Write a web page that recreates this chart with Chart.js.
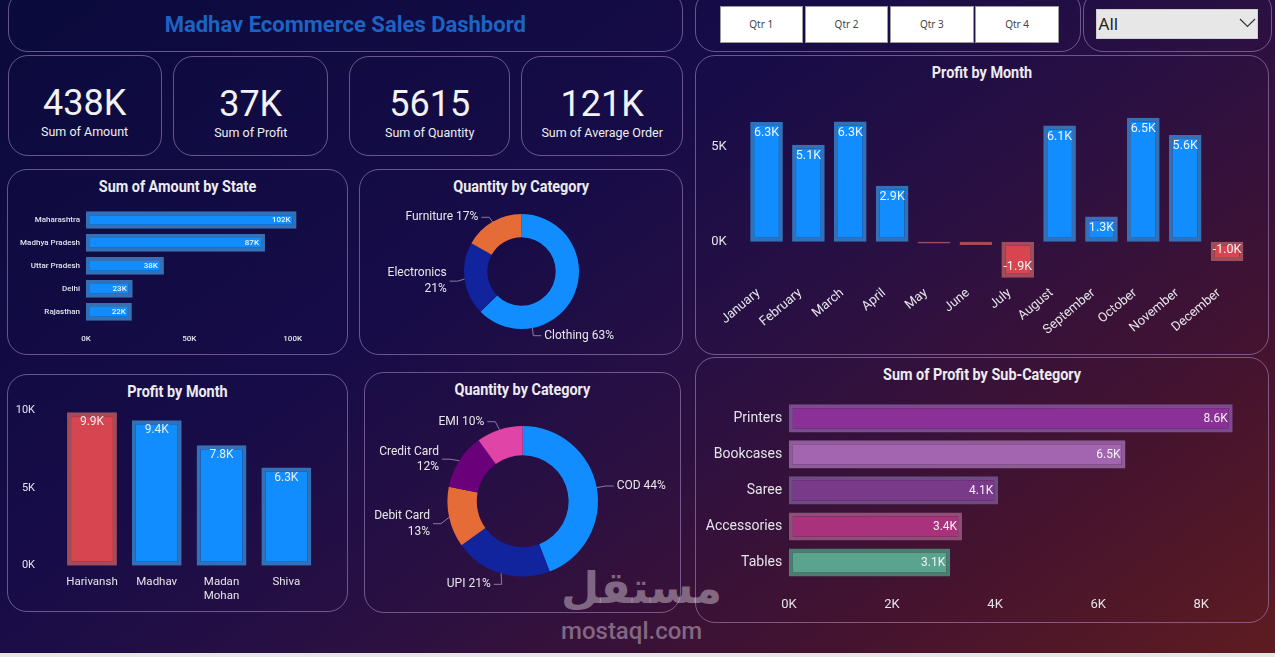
<!DOCTYPE html>
<html><head><meta charset="utf-8">
<script src="https://cdn.jsdelivr.net/npm/chart.js@4.4.1/dist/chart.umd.min.js"></script>
<style>
html,body{margin:0;padding:0}
body{width:1275px;height:657px;overflow:hidden;position:relative;font-family:Roboto,'Noto Sans',sans-serif;
background:linear-gradient(145deg,#0a0a3c 0%,#170c48 38%,#2b1042 58%,#45132f 80%,#5e1c20 100%);}
.panel{position:absolute;border:1px solid rgba(175,145,205,0.55);border-radius:20px;box-sizing:border-box}
.ptitle{position:absolute;left:0;right:0;top:6px;line-height:21px;text-align:center;color:#ececf0;font-weight:700;font-size:16px;transform:scaleX(0.9);white-space:nowrap}
.kval{position:absolute;left:0;right:0;top:29px;line-height:36px;font-size:36px;text-align:center;color:#f2f2f2}
.klab{position:absolute;left:0;right:0;top:68px;line-height:16px;font-size:12.5px;text-align:center;color:#eeeeee}
.btn{position:absolute;top:6px;height:36.7px;width:83.5px;background:#fff;border:1px solid #9a9a9a;box-sizing:border-box;font-size:10px;color:#444;display:flex;align-items:center;justify-content:center;font-family:'Noto Sans',Roboto,sans-serif}
canvas{position:absolute}
#strip{position:absolute;left:0;right:0;top:653px;height:4px;background:#e6e6e6}
.wm{position:absolute;color:rgba(205,190,205,0.5);pointer-events:none;white-space:nowrap}
</style></head>
<body>
<div id="strip"></div>
<script>
// ---------------- DATA ----------------
const dashboardTitle = 'Madhav Ecommerce Sales Dashbord';
const kpiValues = ['438K', '37K', '5615', '121K'];
const kpiLabels = ['Sum of Amount', 'Sum of Profit', 'Sum of Quantity', 'Sum of Average Order'];
const quarters = ['Qtr 1', 'Qtr 2', 'Qtr 3', 'Qtr 4'];
const dropdownValue = 'All';

const states = ['Maharashtra', 'Madhya Pradesh', 'Uttar Pradesh', 'Delhi', 'Rajasthan'];
const stateAmount = [101900, 86600, 37700, 22600, 22200];
const stateTicks = [0, 50000, 100000];

const categories = ['Clothing', 'Electronics', 'Furniture'];
const categoryQty = [3516, 1154, 945];

const months = ['January', 'February', 'March', 'April', 'May', 'June', 'July', 'August', 'September', 'October', 'November', 'December'];
const monthProfit = [6300, 5100, 6330, 2940, -100, -170, -1900, 6120, 1320, 6520, 5620, -1020];
const monthTicks = [0, 5000];

const customers = ['Harivansh', 'Madhav', ['Madan', 'Mohan'], 'Shiva'];
const customerProfit = [9900, 9380, 7770, 6330];
const customerTicks = [0, 5000, 10000];

const paymentModes = ['COD', 'UPI', 'Debit Card', 'Credit Card', 'EMI'];
const paymentQty = [2480, 1175, 730, 670, 560];

const subCategories = ['Printers', 'Bookcases', 'Saree', 'Accessories', 'Tables'];
const subCatProfit = [8610, 6530, 4060, 3360, 3130];
const subCatTicks = [0, 2000, 4000, 6000, 8000];

// ---------------- STYLE ----------------
const BLUE = '#118dff', BLUE_B = '#3470b4', RED = '#d64550', RED_B = '#a04d5a';
const subCatFill = ['#8a3096', '#a465b0', '#7a3a8a', '#aa327c', '#5aa48e'];
const subCatBorder = ['#7c4a8e', '#8e5c98', '#6e4b84', '#8e4e78', '#4b7e71'];

// ---------------- HTML PANELS ----------------
function el(tag, cls, css, html) { const e = document.createElement(tag); if (cls) e.className = cls; if (css) e.style.cssText = css; if (html != null) e.innerHTML = html; document.body.appendChild(e); return e; }
function panel(l, t, w, h, title) {
  const p = el('div', 'panel', `left:${l}px;top:${t}px;width:${w}px;height:${h}px`);
  if (title) { const d = document.createElement('div'); d.className = 'ptitle'; d.textContent = title; p.appendChild(d); }
  return p;
}
panel(7.6, -10, 675.4, 62.3);
el('div', null, `position:absolute;left:7.6px;width:675.4px;top:12px;line-height:26px;text-align:center;font-size:22px;font-weight:700;color:#1c63c4`, dashboardTitle);
const kpiBoxes = [[7.6, 55, 154, 100.5], [173.2, 55.5, 155, 100.7], [349.1, 55.5, 161.2, 100.7], [521.4, 55.5, 161.6, 100.7]];
kpiBoxes.forEach((b, i) => {
  const p = panel(b[0], b[1], b[2], b[3]);
  const v = document.createElement('div'); v.className = 'kval'; v.textContent = kpiValues[i]; p.appendChild(v);
  const l = document.createElement('div'); l.className = 'klab'; l.textContent = kpiLabels[i]; p.appendChild(l);
});
panel(695.2, -10, 385.8, 62.3);
quarters.forEach((q, i) => el('div', 'btn', `left:${719.5 + i * 85.3}px`, q));
panel(1082.9, -10, 189, 62.3);
el('div', null, `position:absolute;left:1095.6px;top:9.3px;width:162px;height:29.4px;background:#e7e7e7;border:1px solid #cfcfcf;box-sizing:border-box;font-size:17px;line-height:27px;padding-left:2px;color:#222;font-family:'Noto Sans',Roboto,sans-serif`, dropdownValue +
  `<svg style="position:absolute;left:142px;top:8px" width="17" height="10"><polyline points="1,1 8.5,8.5 16,1" fill="none" stroke="#333" stroke-width="1.2"/></svg>`);

panel(695, 55, 574, 300, 'Profit by Month');
panel(695, 356.7, 574, 266.6, 'Sum of Profit by Sub-Category');
panel(7.3, 169, 341, 186, 'Sum of Amount by State');
panel(359, 169, 324.3, 186, 'Quantity by Category');
panel(7.3, 374, 341, 238.3, 'Profit by Month');
panel(364, 371.7, 316.7, 241, 'Quantity by Category');

el('div', 'wm', `left:561px;top:556px;font-family:'DejaVu Sans';font-weight:bold;font-size:44px;line-height:64px`, 'مستقل');
el('div', 'wm', `left:561px;top:616px;font-family:Roboto;font-weight:500;font-size:24px;line-height:30px`, 'mostaql.com');

// ---------------- PLUGINS ----------------
function fmtK0(v) { return Math.round(v / 1000) + 'K'; }
function fmtK1(v) { return (v / 1000).toFixed(1) + 'K'; }
const barLabels = {
  id: 'barLabels',
  afterDatasetsDraw(chart) {
    const o = chart.data.datasets[0].valueLabels;
    if (!o) return;
    const ctx = chart.ctx, horiz = chart.options.indexAxis === 'y';
    chart.data.datasets.forEach((ds, di) => {
      chart.getDatasetMeta(di).data.forEach((b, i) => {
        const v = ds.data[i];
        if (Math.abs(v) < o.minAbs) return;
        const t = o.fmt === 'k0' ? fmtK0(v) : fmtK1(v);
        ctx.save(); ctx.font = o.font; ctx.fillStyle = o.color; ctx.textBaseline = 'middle';
        if (horiz) { ctx.textAlign = 'right'; ctx.fillText(t, b.x - o.offset, b.y + 0.5); }
        else { ctx.textAlign = 'center'; ctx.fillText(t, b.x, v >= 0 ? b.y + o.offset : b.y - o.offset); }
        ctx.restore();
      });
    });
  }
};
const donutLabels = {
  id: 'donutLabels',
  afterDraw(chart) {
    const ds = chart.data.datasets[0];
    const o = ds.sliceLabels;
    if (!o) return;
    const ctx = chart.ctx;
    const total = ds.data.reduce((a, b) => a + b, 0);
    chart.getDatasetMeta(0).data.forEach((arc, i) => {
      const it = o.items[i];
      const f = it.at == null ? 0.5 : it.at;
      const a = arc.startAngle + (arc.endAngle - arc.startAngle) * f;
      const px = arc.x + Math.cos(a) * arc.outerRadius, py = arc.y + Math.sin(a) * arc.outerRadius;
      const pct = Math.round(ds.data[i] / total * 100) + '%';
      const lines = it.split ? [chart.data.labels[i], pct] : [chart.data.labels[i] + ' ' + pct];
      const tx = arc.x + it.dx, ty = arc.y + it.dy, lh = it.lh || 15.5;
      const midY = ty + (lines.length - 1) * lh / 2;
      const ax = it.align === 'right' ? tx + 3 : tx - 3;
      const ex = it.align === 'right' ? ax + 8 : ax - 8;
      ctx.save();
      ctx.strokeStyle = o.lineColor; ctx.lineWidth = 1;
      ctx.beginPath(); ctx.moveTo(px, py); ctx.lineTo(ex, midY); ctx.lineTo(ax, midY); ctx.stroke();
      ctx.font = o.font; ctx.fillStyle = o.color; ctx.textAlign = it.align; ctx.textBaseline = 'middle';
      lines.forEach((l, k) => ctx.fillText(l, tx, ty + k * lh));
      ctx.restore();
    });
  }
};
Chart.register(barLabels, donutLabels);
Chart.defaults.font.family = 'Roboto';
Chart.defaults.animation = false;
Chart.defaults.plugins.legend.display = false;
Chart.defaults.plugins.tooltip.enabled = false;

function mkCanvas(l, t, w, h) {
  const c = document.createElement('canvas'); c.width = w; c.height = h;
  c.style.cssText = `left:${l}px;top:${t}px;width:${w}px;height:${h}px`;
  document.body.appendChild(c); return c.getContext('2d');
}
function fixTicks(arr) { return s => { s.ticks = arr.map(v => ({ value: v })); }; }
function setW(w) { return s => { s.width = w; s.paddingTop = 0; s.paddingBottom = 0; }; }
function setH(h) { return s => { s.height = h; s.paddingLeft = 0; s.paddingRight = 0; }; }
const noGrid = { display: false, drawTicks: false };

// ---- Sum of Amount by State ----
new Chart(mkCanvas(10, 200, 300, 146), {
  type: 'bar',
  data: { labels: states, datasets: [{ data: stateAmount, backgroundColor: BLUE, borderColor: BLUE_B, borderWidth: 4, borderSkipped: false, barPercentage: 0.77, categoryPercentage: 1,
    valueLabels: { fmt: 'k0', font: '500 8px Roboto', color: '#f2f2f2', offset: 6, minAbs: 0 } }] },
  options: {
    indexAxis: 'y', responsive: false,
    layout: { padding: { top: 8.5, right: 7, left: 0, bottom: 0 } },
    scales: {
      x: { min: 0, max: 105000, afterBuildTicks: fixTicks(stateTicks), afterFit: setH(22.7), grid: noGrid, border: { display: false },
        ticks: { padding: 11, color: '#dfe3ee', font: { size: 8, weight: 500 }, callback: v => fmtK0(v) } },
      y: { afterFit: setW(76), grid: noGrid, border: { display: false }, ticks: { padding: 6, color: '#dfe3ee', font: { size: 8, weight: 500 } } }
    }
  }
});

// ---- Quantity by Category (donut 1) ----
new Chart(mkCanvas(362, 195, 318, 157), {
  type: 'doughnut',
  data: { labels: categories, datasets: [{ data: categoryQty, backgroundColor: ['#118dff', '#12239e', '#e66c37'], borderWidth: 0,
    sliceLabels: { font: '12px Roboto', color: '#e8e8e8', lineColor: 'rgba(170,160,185,0.75)', items: [
      { at: 0.75, align: 'left', dx: 22.8, dy: 64.2 },
      { split: true, align: 'right', dx: -74.8, dy: 1.8, lh: 15.7 },
      { align: 'right', dx: -43.2, dy: -54.2 }
    ] } }] },
  options: {
    responsive: false, cutout: '59.5%',
    layout: { padding: { left: 102, top: 19, right: 101, bottom: 23 } }
  }
});

// ---- Profit by Month ----
new Chart(mkCanvas(700, 90, 560, 250), {
  type: 'bar',
  data: { labels: months, datasets: [{ data: monthProfit,
    backgroundColor: monthProfit.map(v => v < 0 ? RED : BLUE), borderColor: monthProfit.map(v => v < 0 ? RED_B : BLUE_B),
    borderWidth: 4, borderSkipped: false, barPercentage: 0.78, categoryPercentage: 1,
    valueLabels: { fmt: 'k1', font: '12.5px Roboto', color: '#f4f4f4', offset: 11, minAbs: 500 } }] },
  options: {
    responsive: false,
    layout: { padding: { top: 9.2, right: 12, left: 0, bottom: 0 } },
    scales: {
      x: { afterFit: setH(54.6), grid: noGrid, border: { display: false }, ticks: { minRotation: 40, maxRotation: 40, padding: 0, labelOffset: -8, color: '#e4e4ea', font: { size: 13 } } },
      y: { min: -2300, max: 7500, afterBuildTicks: fixTicks(monthTicks), afterFit: setW(45.6), grid: noGrid, border: { display: false },
        ticks: { padding: 19, color: '#e4e4ea', font: { size: 13 }, callback: v => fmtK0(v) } }
    }
  }
});

// ---- Profit by customer ----
const cMax = Math.max(...customerProfit);
new Chart(mkCanvas(10, 400, 320, 210), {
  type: 'bar',
  data: { labels: customers, datasets: [{ data: customerProfit,
    backgroundColor: customerProfit.map(v => v === cMax ? RED : BLUE), borderColor: customerProfit.map(v => v === cMax ? RED_B : BLUE_B),
    borderWidth: 4, borderSkipped: false, barPercentage: 0.77, categoryPercentage: 1,
    valueLabels: { fmt: 'k1', font: '12px Roboto', color: '#ececf0', offset: 10, minAbs: 0 } }] },
  options: {
    responsive: false,
    layout: { padding: { top: 10.7, right: 11.3, left: 0, bottom: 0 } },
    scales: {
      x: { afterFit: setH(44.3), grid: noGrid, border: { display: false }, ticks: { padding: 9, color: '#e4e4ea', font: { size: 11.5, lineHeight: 1.25 } } },
      y: { min: 0, max: 10000, afterBuildTicks: fixTicks(customerTicks), afterFit: setW(49.6), grid: noGrid, border: { display: false },
        ticks: { padding: 24.6, color: '#e4e4ea', font: { size: 11 }, callback: v => fmtK0(v) } }
    }
  }
});

// ---- Quantity by payment mode (donut 2) ----
new Chart(mkCanvas(366, 398, 312, 212), {
  type: 'doughnut',
  data: { labels: paymentModes, datasets: [{ data: paymentQty, backgroundColor: ['#118dff', '#12239e', '#e66c37', '#6b007b', '#e044a7'], borderWidth: 0,
    sliceLabels: { font: '12px Roboto', color: '#e8e8e8', lineColor: 'rgba(170,160,185,0.75)', items: [
      { align: 'left', dx: 94, dy: -15.3 },
      { align: 'right', dx: -32, dy: 83 },
      { split: true, align: 'right', dx: -92.7, dy: 14.4, lh: 16 },
      { split: true, align: 'right', dx: -83.7, dy: -49.6, lh: 15 },
      { align: 'right', dx: -38.4, dy: -79.6 }
    ] } }] },
  options: {
    responsive: false, cutout: '61%',
    layout: { padding: { left: 81.4, top: 28, right: 80, bottom: 33.4 } }
  }
});

// ---- Sum of Profit by Sub-Category ----
new Chart(mkCanvas(700, 392, 560, 225), {
  type: 'bar',
  data: { labels: subCategories, datasets: [{ data: subCatProfit, backgroundColor: subCatFill, borderColor: subCatBorder, borderWidth: 4, borderSkipped: false, barPercentage: 0.78, categoryPercentage: 1,
    valueLabels: { fmt: 'k1', font: '12px Roboto', color: '#f2f2f2', offset: 5, minAbs: 0 } }] },
  options: {
    indexAxis: 'y', responsive: false,
    layout: { padding: { top: 8.3, right: 7.2, left: 0, bottom: 0 } },
    scales: {
      x: { min: 0, max: 9000, afterBuildTicks: fixTicks(subCatTicks), afterFit: setH(36.5), grid: noGrid, border: { display: false },
        ticks: { padding: 16.3, color: '#e4e4ea', font: { size: 13 }, callback: v => fmtK0(v) } },
      y: { afterFit: setW(88.9), grid: noGrid, border: { display: false }, ticks: { padding: 6.7, color: '#e4e4ea', font: { size: 14 } } }
    }
  }
});
</script>
</body></html>
